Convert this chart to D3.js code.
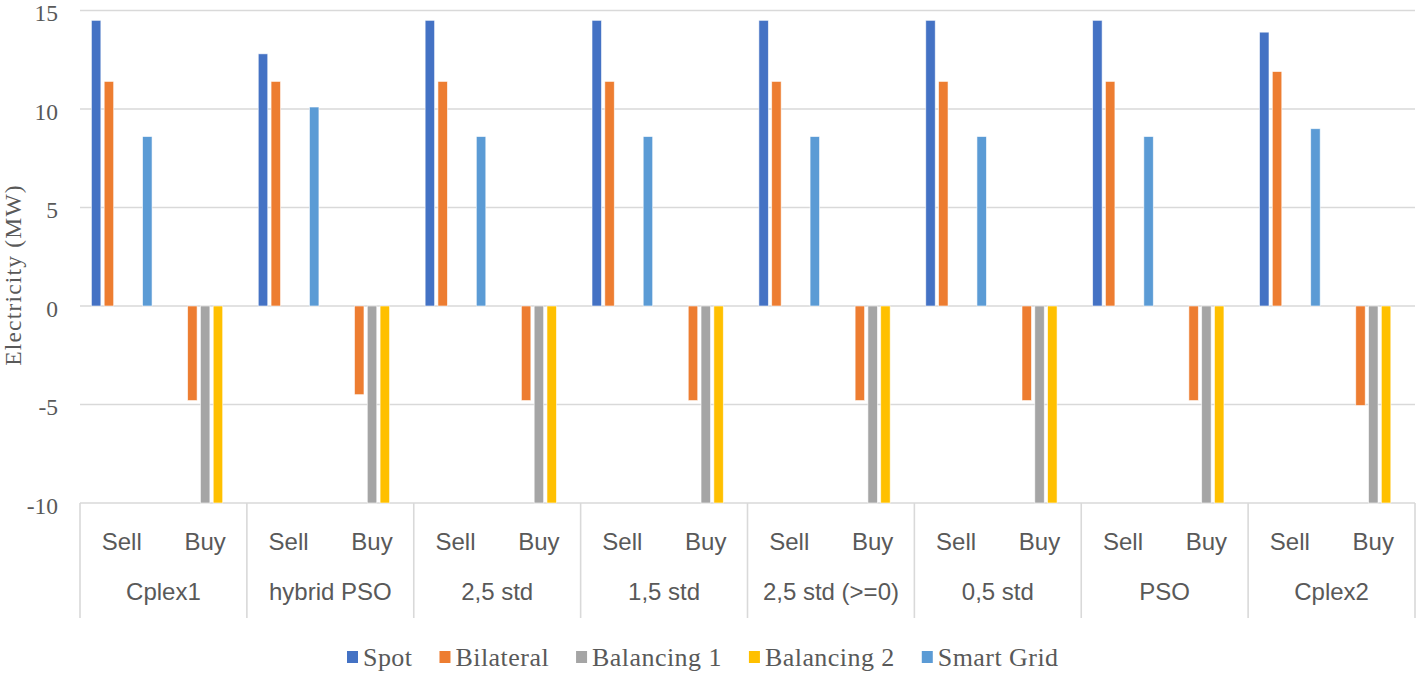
<!DOCTYPE html>
<html>
<head>
<meta charset="utf-8">
<script src="https://cdn.jsdelivr.net/npm/d3@7"></script>
<style>
  html, body { margin: 0; padding: 0; background: #fff; }
  svg { display: block; }
</style>
</head>
<body>
<div id="chart"></div>
<script>
// data
var groups = ["Cplex1", "hybrid PSO", "2,5 std", "1,5 std", "2,5 std (>=0)", "0,5 std", "PSO", "Cplex2"];
var sides = ["Sell", "Buy"];
var seriesNames = ["Spot", "Bilateral", "Balancing 1", "Balancing 2", "Smart Grid"];
var seriesColors = ["#4472C4", "#ED7D31", "#A5A5A5", "#FFC000", "#5B9BD5"];
var yTicks = [-10, -5, 0, 5, 10, 15];

var spotSell = [14.5, 12.8, 14.5, 14.5, 14.5, 14.5, 14.5, 13.9];
var bilateralSell = [11.4, 11.4, 11.4, 11.4, 11.4, 11.4, 11.4, 11.9];
var smartGridSell = [8.6, 10.1, 8.6, 8.6, 8.6, 8.6, 8.6, 9.0];
var bilateralBuy = [-4.8, -4.5, -4.8, -4.8, -4.8, -4.8, -4.8, -5.05];
var balancing1Buy = [-10, -10, -10, -10, -10, -10, -10, -10];
var balancing2Buy = [-10, -10, -10, -10, -10, -10, -10, -10];

var chart = {
	init: function () {
		var self = this;
		self.width = 1418;
		self.height = 674;
		self.left = 80;
		self.right = 1415;
		self.buildRows();
		self.draw();
	},
	// one row per Sell/Buy slot, values keyed by series
	buildRows: function () {
		var self = this;
		self.rows = [];
		groups.forEach(function (g, i) {
			self.rows.push({ key: g + "|Sell", group: g, side: sides[0], values: {
				"Spot": spotSell[i], "Bilateral": bilateralSell[i], "Smart Grid": smartGridSell[i] } });
			self.rows.push({ key: g + "|Buy", group: g, side: sides[1], values: {
				"Bilateral": bilateralBuy[i], "Balancing 1": balancing1Buy[i], "Balancing 2": balancing2Buy[i] } });
		});
	},
	draw: function () {
		var self = this;
		var svg = d3.select("#chart").append("svg")
			.attr("width", self.width)
			.attr("height", self.height);

		var y = d3.scaleLinear().domain([-10, 15]).range([503, 10.5]);
		var x0 = d3.scaleBand()
			.domain(self.rows.map(function (d) { return d.key; }))
			.range([self.left, self.right])
			.padding(0);
		var x1 = d3.scaleBand()
			.domain(seriesNames)
			.range([0, x0.bandwidth()])
			.paddingInner(0.26)
			.paddingOuter(0.89);
		var color = d3.scaleOrdinal().domain(seriesNames).range(seriesColors);

		// gridlines
		svg.append("g").selectAll("line")
			.data(yTicks)
			.enter().append("line")
			.attr("x1", self.left)
			.attr("x2", self.right)
			.attr("y1", function (d) { return y(d); })
			.attr("y2", function (d) { return y(d); })
			.attr("stroke", "#d9d9d9")
			.attr("stroke-width", 1.6);

		// y tick labels
		svg.append("g").selectAll("text")
			.data(yTicks)
			.enter().append("text")
			.attr("x", 58)
			.attr("y", function (d) { return y(d) + 10.5; })
			.attr("text-anchor", "end")
			.attr("font-family", "Liberation Serif, serif")
			.attr("font-size", 23.5)
			.attr("fill", "#595959")
			.text(function (d) { return d; });

		// y title
		svg.append("text")
			.attr("transform", "translate(21,275) rotate(-90)")
			.attr("text-anchor", "middle")
			.attr("font-family", "Liberation Serif, serif")
			.attr("font-size", 23.5)
			.attr("letter-spacing", 1.2)
			.attr("fill", "#595959")
			.text("Electricity (MW)");

		// bars
		var slot = svg.append("g").selectAll("g")
			.data(self.rows)
			.enter().append("g")
			.attr("transform", function (d) { return "translate(" + x0(d.key) + ",0)"; });

		slot.selectAll("rect")
			.data(function (d) {
				return seriesNames.filter(function (s) { return d.values[s] != null; })
					.map(function (s) { return { series: s, value: d.values[s] }; });
			})
			.enter().append("rect")
			.attr("x", function (d) { return x1(d.series); })
			.attr("width", x1.bandwidth())
			.attr("y", function (d) { return y(Math.max(0, d.value)); })
			.attr("height", function (d) { return Math.abs(y(d.value) - y(0)); })
			.attr("fill", function (d) { return color(d.series); })
			.attr("stroke", "#fff")
			.attr("stroke-width", 0.8)
			.attr("stroke-opacity", 0.7);

		// category axis box
		var boxTop = y(-10), boxBottom = 618;
		var groupEdges = [self.left];
		groups.forEach(function (g) {
			groupEdges.push(x0(g + "|Buy") + x0.bandwidth());
		});
		svg.append("g").selectAll("line")
			.data(groupEdges)
			.enter().append("line")
			.attr("x1", function (d) { return d; })
			.attr("x2", function (d) { return d; })
			.attr("y1", boxTop)
			.attr("y2", boxBottom)
			.attr("stroke", "#d9d9d9")
			.attr("stroke-width", 1.6);

		svg.append("g").selectAll("text")
			.data(self.rows)
			.enter().append("text")
			.attr("x", function (d) { return x0(d.key) + x0.bandwidth() / 2; })
			.attr("y", 550)
			.attr("text-anchor", "middle")
			.attr("font-family", "Liberation Sans, Arial, sans-serif")
			.attr("font-size", 24)
			.attr("fill", "#595959")
			.text(function (d) { return d.side; });

		svg.append("g").selectAll("text")
			.data(groups)
			.enter().append("text")
			.attr("x", function (g) { return x0(g + "|Sell") + x0.bandwidth(); })
			.attr("y", 600)
			.attr("text-anchor", "middle")
			.attr("font-family", "Liberation Sans, Arial, sans-serif")
			.attr("font-size", 24)
			.attr("fill", "#595959")
			.text(function (g) { return g; });

		// legend
		var legend = svg.append("g").attr("transform", "translate(347,0)");
		var lx = 0;
		seriesNames.forEach(function (s) {
			var item = legend.append("g").attr("transform", "translate(" + lx + ",0)");
			item.append("rect")
				.attr("x", 0)
				.attr("y", 651)
				.attr("width", 11)
				.attr("height", 12)
				.attr("fill", color(s));
			var t = item.append("text")
				.attr("x", 16)
				.attr("y", 666)
				.attr("font-family", "Liberation Serif, serif")
				.attr("font-size", 26)
				.attr("letter-spacing", 0.45)
				.attr("fill", "#595959")
				.text(s);
			lx += 16 + t.node().getComputedTextLength() + 27;
		});
	}
};

chart.init();
</script>
</body>
</html>
